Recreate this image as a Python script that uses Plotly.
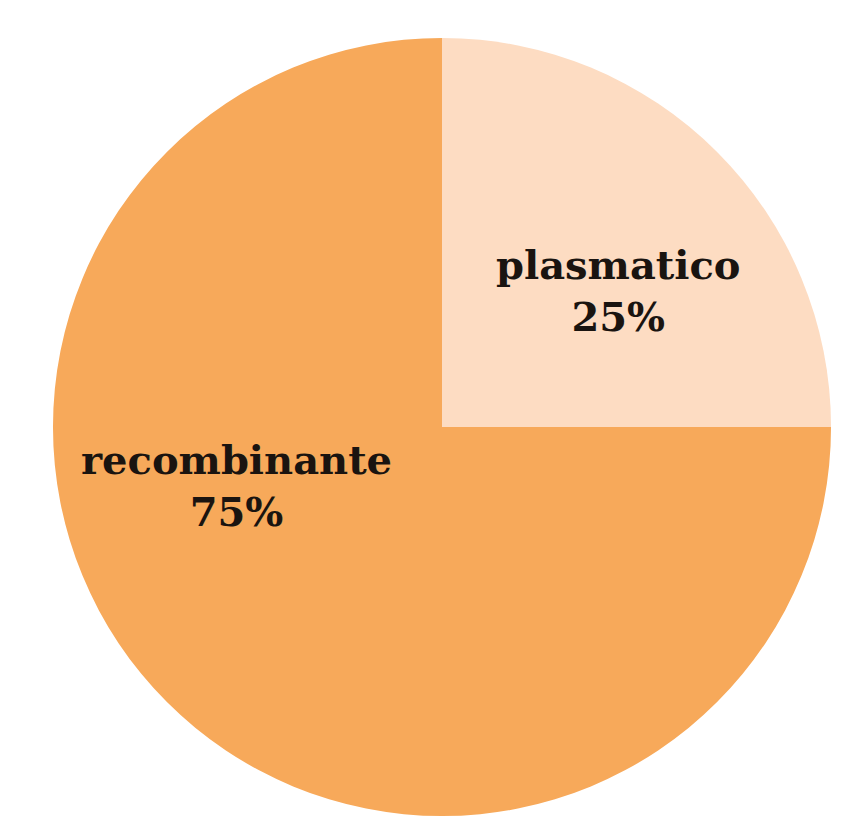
import plotly.graph_objects as go

labels = ["plasmatico", "recombinante"]
values = [25, 75]
colors = ["#FDDCC2", "#F7A95A"]
label_x = [0.7208, 0.2692]
label_y = [0.6545, 0.4164]

total = sum(values)

fig = go.Figure(go.Pie(
    labels=labels,
    values=values,
    sort=False,
    direction="clockwise",
    rotation=0,
    marker=dict(colors=colors, line=dict(width=0)),
    textinfo="none",
    domain=dict(x=[0.0531, 0.9717], y=[0.0134, 0.9634]),
    hoverinfo="label+percent",
    showlegend=False,
))

for lab, v, x, y in zip(labels, values, label_x, label_y):
    fig.add_annotation(
        x=x, y=y, xref="paper", yref="paper",
        text=f"<b>{lab}</b><br><b>{round(100 * v / total)}%</b>",
        showarrow=False,
        xanchor="center", yanchor="middle",
        font=dict(family="DejaVu Serif", size=40, color="#1a1410"),
    )

fig.update_layout(
    width=847, height=819,
    margin=dict(l=0, r=0, t=0, b=0),
    paper_bgcolor="white",
    plot_bgcolor="white",
    showlegend=False,
)

fig.write_html("out.html")
